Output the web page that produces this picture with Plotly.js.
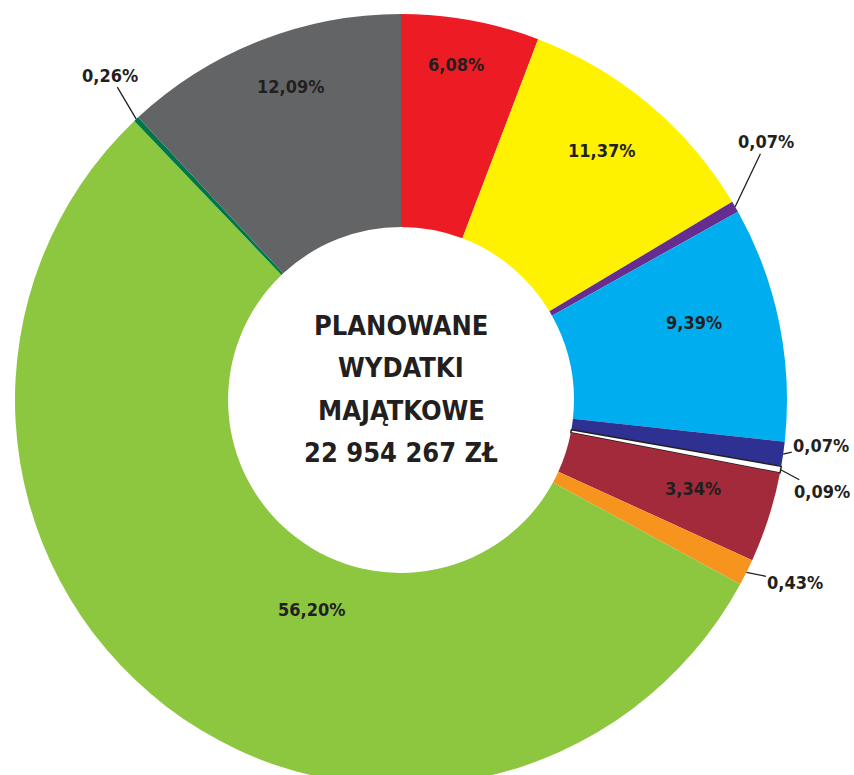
<!DOCTYPE html>
<html>
<head>
<meta charset="utf-8">
<script src="https://cdn.plot.ly/plotly-3.0.1.min.js"></script>
<style>html,body{margin:0;padding:0;overflow:hidden;background:#fff}</style>
</head>
<body>
<div id="chart" style="width:854px;height:802px"></div>
<script>
// ---- data ----
const categories = ['Segment 1','Segment 2','Segment 3','Segment 4','Segment 5','Segment 6',
                    'Segment 7','Segment 8','Segment 9','Segment 10','Segment 11'];
// printed percentage labels
const shares = [6.08, 11.37, 0.07, 9.39, 0.07, 0.09, 3.34, 0.43, 56.20, 0.26, 12.09];
// slice sizes as drawn in the picture (small slices are drawn enlarged)
const sliceSizes = [5.78, 10.64, 0.47, 9.83, 1.03, 0.28, 3.78, 1.11, 54.94, 0.22, 11.92];
const centerLines = ['PLANOWANE', 'WYDATKI', 'MAJĄTKOWE', '22 954 267 ZŁ'];

// ---- styles ----
const colors = ['#ed1c24','#fff200','#662d91','#00aeef','#2e3192','#ffffff',
                '#a22a3a','#f7941d','#8dc63f','#00774b','#636466'];
const lineWidths = [0,0,0,0,0,1.5,0,0,0,0,0];
const lineColors = colors.map((c,i)=> i===5 ? '#231f20' : c);
// label placement: inside -> radius fraction r and angle nudge da; outside -> pixel offsets
const labelStyle = [
  {r:0.88, da:-1.1},
  {r:0.83, da:-1.2},
  {outside:true, ax:31, ay:-65},
  {r:0.785, da:-3.4},
  {outside:true, ax:38, ay:-9},
  {outside:true, ax:41, ay:22},
  {r:0.79, da:-0.9},
  {outside:true, ax:49, ay:10},
  {r:0.59, da:-14.2},
  {outside:true, ax:-26, ay:-44},
  {r:0.86, da:2.0}
];
const centerShifts = [75, 33, -10, -52];
const fontFamily = "'DejaVu Sans Condensed', 'Liberation Sans Narrow', 'Arial Narrow', sans-serif";
const labelFont = {family: fontFamily, size: 18, color: '#231f20', weight: 'bold'};
const centerFont = {family: fontFamily, size: 27, color: '#231f20', weight: 'bold'};

const fmt = v => v.toFixed(2).replace('.', ',') + '%';

const total = sliceSizes.reduce((a,b)=>a+b,0);
let cum = 0;
const annotations = [];
sliceSizes.forEach((v,i)=>{
  const a0 = cum/total*360; cum += v; const a1 = cum/total*360;
  const mid = (a0+a1)/2;
  const st = labelStyle[i];
  if (st.outside) {
    const t = mid*Math.PI/180;
    annotations.push({xref:'paper', yref:'paper', x:0.5+0.5*Math.sin(t), y:0.5+0.5*Math.cos(t),
      text: fmt(shares[i]), showarrow:true, arrowhead:0, arrowwidth:1.3, arrowcolor:'#231f20',
      ax:st.ax, ay:st.ay, standoff:0, font:labelFont});
  } else {
    const t = (mid+st.da)*Math.PI/180;
    annotations.push({xref:'paper', yref:'paper', x:0.5+0.5*st.r*Math.sin(t), y:0.5+0.5*st.r*Math.cos(t),
      text: fmt(shares[i]), showarrow:false, font:labelFont, xanchor:'center', yanchor:'middle'});
  }
});
centerLines.forEach((line,i)=>{
  annotations.push({xref:'paper', yref:'paper', x:0.5, y:0.5, yshift:centerShifts[i], showarrow:false,
    text: line, xanchor:'center', yanchor:'middle', font:centerFont});
});

const trace = {
  type:'pie', labels:categories, values:sliceSizes, sort:false, direction:'clockwise', rotation:0,
  hole:0.448, textinfo:'none', hoverinfo:'skip',
  marker:{colors:colors, line:{width:lineWidths, color:lineColors}}
};
const layout = {
  width:854, height:802, margin:{l:15, r:67, t:14, b:16},
  showlegend:false, paper_bgcolor:'#ffffff', annotations:annotations
};
Plotly.newPlot('chart', [trace], layout, {staticPlot:true, displayModeBar:false});
</script>
</body>
</html>
